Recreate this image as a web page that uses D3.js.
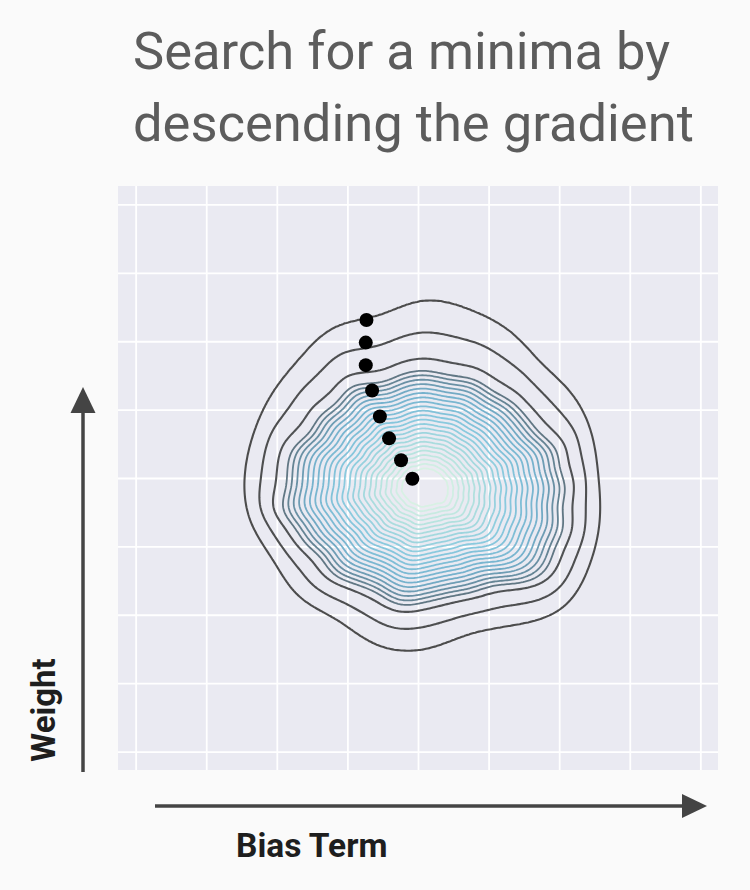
<!DOCTYPE html>
<html><head><meta charset="utf-8">
<script src="https://cdn.jsdelivr.net/npm/d3@7"></script>
<style>html,body{margin:0;padding:0;background:#fafafa;} svg{display:block}</style>
</head><body><svg id="c" width="750" height="890"></svg>
<script>
// ---- data ----
const titleLines = ["Search for a minima by", "descending the gradient"];
const xLabel = "Bias Term";
const yLabel = "Weight";
const xTicks = [0, 1, 2, 3, 4, 5, 6, 7, 8];
const yTicks = [0, 1, 2, 3, 4, 5, 6, 7, 8];
// gradient-descent steps (bias, weight)
const stepBias   = [3.27, 3.26, 3.26, 3.35, 3.46, 3.59, 3.76, 3.92];
const stepWeight = [6.31, 5.98, 5.65, 5.28, 4.90, 4.58, 4.26, 3.99];
// outermost contour radius (data units), every 15 degrees from 0 (counter-clockwise)
const outerAngleDeg = [0,15,30,45,60,75,90,105,120,135,150,165,180,195,210,225,240,255,270,285,300,315,330,345];
const outerRadius   = [2.45,2.465,2.435,2.30,2.465,2.51,2.63,2.36,2.57,2.435,2.465,2.48,2.54,2.57,2.42,2.54,2.375,2.60,2.57,2.345,2.495,2.825,2.69,2.585];
// relative ripple of the inner contours, every 10 degrees
const innerRipple = [0.03,-0.015,0.03,-0.03,0.015,0.045,-0.015,0.03,-0.03,0.0,0.03,-0.015,0.045,-0.03,0.015,-0.045,0.03,0.0,-0.03,0.03,-0.015,0.015,-0.045,0.03,0.015,-0.03,0.03,-0.015,0.0,0.03,-0.03,0.015,0.03,-0.015,0.015,-0.03];
const outerCenter = [4.08, 4.03];
const innerCenter = [4.10, 3.86];
const innerFlatten = 1.19;   // inner contours are wider than tall
// contour levels as fraction of the outermost contour radius (horizontal)
const levelRadius = [1.00,0.92,0.845,0.79,0.76,0.73,0.70,0.67,0.64,0.61,0.58,0.55,0.52,0.49,0.46,0.43,0.40,0.37,0.34,0.31,0.28,0.25,0.22,0.19,0.16,0.13];

// ---- layout ----
const svg = d3.select("#c");
const plot = {x0: 118, x1: 718, y0: 186, y1: 770};
const xScale = d3.scaleLinear().domain([-0.25, 8.25]).range([plot.x0, plot.x1]);
const yScale = d3.scaleLinear().domain([-0.27, 8.27]).range([plot.y1, plot.y0]);
const FONT = "Roboto, 'Noto Sans', sans-serif";

// title
titleLines.forEach((t, i) => {
  svg.append("text").attr("x", 133).attr("y", 69 + i * 72)
    .attr("font-family", FONT).attr("font-size", 52.5)
    .attr("fill", "#5c5c5c").text(t);
});

// plot background
svg.append("rect").attr("x", plot.x0).attr("y", plot.y0)
  .attr("width", plot.x1 - plot.x0).attr("height", plot.y1 - plot.y0)
  .attr("fill", "#eaeaf2");

// grid
const gx = svg.append("g").attr("transform", `translate(0,${plot.y1})`)
  .call(d3.axisBottom(xScale).tickValues(xTicks).tickSize(-(plot.y1 - plot.y0)).tickFormat(""));
const gy = svg.append("g").attr("transform", `translate(${plot.x0},0)`)
  .call(d3.axisLeft(yScale).tickValues(yTicks).tickSize(-(plot.x1 - plot.x0)).tickFormat(""));
[gx, gy].forEach(g => {
  g.select(".domain").remove();
  g.selectAll(".tick line").attr("stroke", "#ffffff").attr("stroke-width", 1.8);
});

// field: 1 - normalised radius
const n = 280, dom0 = 0.6, dom1 = 7.6, step = (dom1 - dom0) / n;
const R = d3.interpolateBasisClosed(outerRadius);
const W = d3.interpolateBasisClosed(innerRipple);
const clamp01 = v => Math.max(0, Math.min(1, v));
function rho(x, y) {
  let cx = outerCenter[0], cy = outerCenter[1], r = 1, ay = 1;
  for (let it = 0; it < 8; it++) {
    const dx = x - cx, dy = (y - cy) * ay;
    const d = Math.hypot(dx, dy);
    let a = Math.atan2(dy, dx); if (a < 0) a += 2 * Math.PI;
    const f = a / (2 * Math.PI);
    const w = clamp01((1 - r) / 0.2);
    const rn = d / (R(f) * (1 + W(f) * w));
    r = it === 0 ? rn : 0.5 * r + 0.5 * rn;
    const t = clamp01((1 - r) / 0.2);
    cx = outerCenter[0] + (innerCenter[0] - outerCenter[0]) * t;
    cy = outerCenter[1] + (innerCenter[1] - outerCenter[1]) * t;
    ay = 1 + (innerFlatten - 1) * clamp01((1 - r) / 0.17);
  }
  return r;
}
const values = new Float64Array(n * n);
for (let j = 0; j < n; j++) for (let i = 0; i < n; i++) {
  values[j * n + i] = 1 - rho(dom0 + (i + 0.5) * step, dom0 + (j + 0.5) * step);
}
const contours = d3.contours().size([n, n]).thresholds(levelRadius.map(r => 1 - r))(values);
const proj = d3.geoTransform({
  point(px, py) { this.stream.point(xScale(dom0 + px * step), yScale(dom0 + py * step)); }
});
const path = d3.geoPath(proj);
const L = levelRadius.length;
const color = d3.scaleLinear()
  .domain([0, 0.08, 0.12, 0.3, 0.55, 0.82, 1])
  .range(["#4c4c4c", "#505254", "#617784", "#74b0cc", "#88c9de", "#b4e2de", "#d8f1e4"])
  .interpolate(d3.interpolateRgb);
svg.append("g").selectAll("path").data(contours).join("path")
  .attr("d", path)
  .attr("fill", "#ffffff").attr("fill-opacity", 0.025)
  .attr("stroke", (d, i) => color(i / (L - 1)))
  .attr("stroke-width", (d, i) => i < 3 ? 2.1 : 1.8)
  .attr("stroke-linejoin", "round");

// steps
svg.append("g").selectAll("circle").data(stepBias.map((b, i) => [b, stepWeight[i]])).join("circle")
  .attr("cx", d => xScale(d[0])).attr("cy", d => yScale(d[1])).attr("r", 7).attr("fill", "#000");

// axis arrows
const ac = "#444444";
svg.append("line").attr("x1", 83).attr("x2", 83).attr("y1", 772).attr("y2", 410)
  .attr("stroke", ac).attr("stroke-width", 3.5);
svg.append("path").attr("d", "M83,387 L95.5,413 L70.5,413 Z").attr("fill", ac);
svg.append("line").attr("x1", 155).attr("x2", 685).attr("y1", 806).attr("y2", 806)
  .attr("stroke", ac).attr("stroke-width", 3.5);
svg.append("path").attr("d", "M707,806 L682,794 L682,818 Z").attr("fill", ac);

// labels
svg.append("text").attr("x", 236).attr("y", 857)
  .attr("font-family", FONT).attr("font-weight", 700)
  .attr("font-size", 33.5).attr("fill", "#1e1e1e").text(xLabel);
svg.append("text").attr("transform", "translate(55,710) rotate(-90)").attr("text-anchor", "middle")
  .attr("font-family", FONT).attr("font-weight", 700)
  .attr("font-size", 33).attr("fill", "#1e1e1e").text(yLabel);
</script></body></html>
